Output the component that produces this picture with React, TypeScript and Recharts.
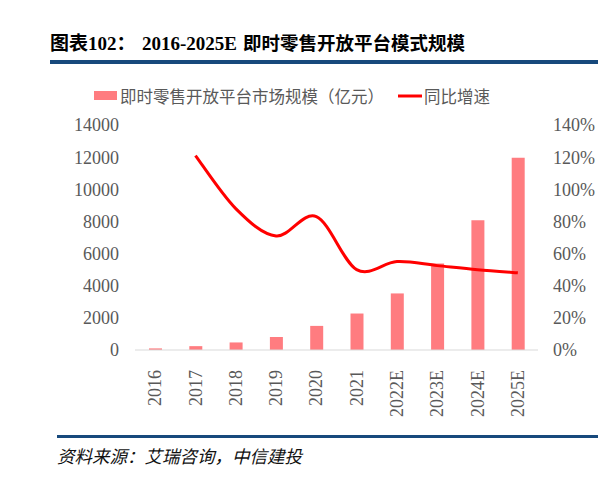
import React from 'react';
import { ComposedChart, Bar, Line, XAxis, YAxis } from 'recharts';

const years = ['2016', '2017', '2018', '2019', '2020', '2021', '2022E', '2023E', '2024E', '2025E'];
const marketSize = [100, 240, 470, 810, 1500, 2270, 3520, 5380, 8080, 11960];
const growthRate = [null, 121, 88, 71, 83, 50, 55, 52.5, 50, 48];
const leftTicks = [0, 2000, 4000, 6000, 8000, 10000, 12000, 14000];
const rightTicks = [0, 20, 40, 60, 80, 100, 120, 140];

const data = years.map((y, i) => ({ year: y, size: marketSize[i], growth: growthRate[i] }));

const SERIF = '"Liberation Serif", "Times New Roman", "Noto Sans CJK SC", serif';
const CJK = '"Noto Sans CJK SC", "Liberation Serif", sans-serif';
const GRAY = '#595959';

// Excel-like smoothing (uniform Catmull-Rom) curve factory
function smoothCurve(context: any) {
  let pts: number[][] = [];
  return {
    areaStart() {},
    areaEnd() {},
    lineStart() {
      pts = [];
    },
    point(x: number, y: number) {
      pts.push([+x, +y]);
    },
    lineEnd() {
      const n = pts.length;
      if (!n) return;
      context.moveTo(pts[0][0], pts[0][1]);
      for (let i = 0; i < n - 1; i++) {
        const p0 = pts[i - 1] || pts[i];
        const p1 = pts[i];
        const p2 = pts[i + 1];
        const p3 = pts[i + 2] || pts[i + 1];
        const c1x = p1[0] + (p2[0] - p0[0]) / 6;
        const c1y = p1[1] + (p2[1] - p0[1]) / 6;
        const c2x = p2[0] - (p3[0] - p1[0]) / 6;
        const c2y = p2[1] - (p3[1] - p1[1]) / 6;
        context.bezierCurveTo(c1x, c1y, c2x, c2y, p2[0], p2[1]);
      }
    },
  };
}

const XTick = (props: any) => {
  const { x, y, payload } = props;
  return (
    <text
      x={x}
      y={y + 12}
      dy="0.34em"
      transform={`rotate(-90, ${x}, ${y + 12})`}
      textAnchor="end"
      fill={GRAY}
      fontSize={18}
      fontFamily={SERIF}
    >
      {payload.value}
    </text>
  );
};

export default function App() {
  return (
    <div style={{ position: 'absolute', left: 0, top: 0, width: 598, height: 492, background: '#fff' }}>
      <div style={{ position: 'absolute', left: 0, top: 0 }}>
        <ComposedChart
          width={598}
          height={492}
          data={data}
          margin={{ top: 125, right: 0, bottom: 0, left: 0 }}
        >
          <XAxis
            dataKey="year"
            interval={0}
            tickLine={false}
            axisLine={{ stroke: '#D9D9D9', strokeWidth: 1 }}
            tick={<XTick />}
            height={142}
          />
          <YAxis
            yAxisId="left"
            orientation="left"
            width={135}
            domain={[0, 14000]}
            ticks={leftTicks}
            interval={0}
            axisLine={false}
            tickLine={false}
            tickSize={0}
            tickMargin={16}
            tick={{ fill: GRAY, fontSize: 18, fontFamily: SERIF }}
          />
          <YAxis
            yAxisId="right"
            orientation="right"
            width={60}
            domain={[0, 140]}
            ticks={rightTicks}
            interval={0}
            axisLine={false}
            tickLine={false}
            tickSize={0}
            tickMargin={15}
            tickFormatter={(v: number) => `${v}%`}
            tick={{ fill: GRAY, fontSize: 18, fontFamily: SERIF, textAnchor: 'start' }}
          />
          <Bar yAxisId="left" dataKey="size" fill="#FF7C80" barSize={13} isAnimationActive={false} />
          <Line
            yAxisId="right"
            dataKey="growth"
            type={smoothCurve as any}
            stroke="#FF0000"
            strokeWidth={3}
            dot={false}
            activeDot={false}
            connectNulls={false}
            isAnimationActive={false}
          />
        </ComposedChart>
      </div>
      <svg width={598} height={492} style={{ position: 'absolute', left: 0, top: 0, pointerEvents: 'none' }}>
        <text x={50} y={50} fontSize={19} fontWeight="bold" fontFamily={SERIF} fill="#000">图表102：</text>
        <text x={142} y={50} fontSize={19} fontWeight="bold" fontFamily={SERIF} fill="#000">2016-2025E</text>
        <text x={243} y={50} fontSize={18.5} fontWeight="bold" fontFamily={CJK} fill="#000">即时零售开放平台模式规模</text>
        <rect x={50} y={60} width={548} height={4} fill="#17497C" />

        <rect x={94} y={91} width={23} height={9} fill="#FF7C80" />
        <text x={120} y={103} fontSize={16.5} fontFamily={CJK} fill={GRAY}>即时零售开放平台市场规模（亿元）</text>
        <line x1={398} y1={96} x2={422} y2={96} stroke="#FF0000" strokeWidth={3} />
        <text x={424} y={103} fontSize={16.5} fontFamily={CJK} fill={GRAY}>同比增速</text>

        <rect x={57} y={435} width={541} height={3} fill="#17497C" />
        <text x={57} y={463} fontSize={17.5} fontStyle="italic" fontFamily={CJK} fill="#111">资料来源：艾瑞咨询，中信建投</text>
      </svg>
    </div>
  );
}
